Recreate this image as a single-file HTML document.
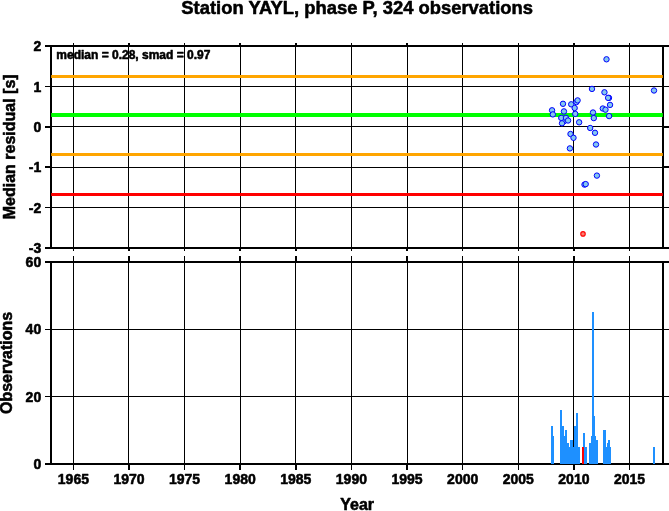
<!DOCTYPE html>
<html><head><meta charset="utf-8"><title>Station YAYL</title>
<style>
html,body{margin:0;padding:0;background:#fff;}
body{width:669px;height:511px;overflow:hidden;}
svg{display:block;will-change:transform;}
text{font-family:"Liberation Sans",sans-serif;font-weight:bold;fill:#000;stroke:#000;stroke-width:0.55px;stroke-linejoin:round;}
</style></head><body>
<svg width="669" height="511" viewBox="0 0 669 511">
<rect x="0" y="0" width="669" height="511" fill="#fff"/>
<g shape-rendering="crispEdges" fill="#000">
<rect x="73" y="45" width="1" height="204"/>
<rect x="128" y="45" width="1" height="204"/>
<rect x="184" y="45" width="1" height="204"/>
<rect x="240" y="45" width="1" height="204"/>
<rect x="295" y="45" width="1" height="204"/>
<rect x="351" y="45" width="1" height="204"/>
<rect x="407" y="45" width="1" height="204"/>
<rect x="462" y="45" width="1" height="204"/>
<rect x="518" y="45" width="1" height="204"/>
<rect x="573" y="45" width="1" height="204"/>
<rect x="629" y="45" width="1" height="204"/>
<rect x="45" y="45" width="624" height="2"/>
<rect x="45" y="247" width="624" height="2"/>
<rect x="50" y="45" width="2" height="204"/>
<rect x="662" y="45" width="2" height="204"/>
<rect x="73" y="261" width="1" height="204"/>
<rect x="128" y="261" width="1" height="204"/>
<rect x="184" y="261" width="1" height="204"/>
<rect x="240" y="261" width="1" height="204"/>
<rect x="295" y="261" width="1" height="204"/>
<rect x="351" y="261" width="1" height="204"/>
<rect x="407" y="261" width="1" height="204"/>
<rect x="462" y="261" width="1" height="204"/>
<rect x="518" y="261" width="1" height="204"/>
<rect x="573" y="261" width="1" height="204"/>
<rect x="629" y="261" width="1" height="204"/>
<rect x="45" y="261" width="624" height="2"/>
<rect x="45" y="463" width="624" height="2"/>
<rect x="50" y="261" width="2" height="204"/>
<rect x="662" y="261" width="2" height="204"/>
<rect x="45" y="86" width="624" height="1"/>
<rect x="45" y="126" width="624" height="1"/>
<rect x="45" y="167" width="624" height="1"/>
<rect x="45" y="207" width="624" height="1"/>
<rect x="45" y="329" width="624" height="1"/>
<rect x="45" y="396" width="624" height="1"/>
<rect x="45" y="127" width="5" height="1"/>
<rect x="664" y="127" width="5" height="1"/>
<rect x="45" y="166" width="5" height="1"/>
<rect x="664" y="166" width="5" height="1"/>
<rect x="73" y="43" width="1" height="2"/>
<rect x="73" y="249" width="1" height="2"/>
<rect x="73" y="256" width="1" height="5"/>
<rect x="73" y="465" width="1" height="5"/>
<rect x="128" y="43" width="2" height="2"/>
<rect x="128" y="249" width="2" height="2"/>
<rect x="128" y="256" width="2" height="5"/>
<rect x="128" y="465" width="2" height="5"/>
<rect x="184" y="43" width="1" height="2"/>
<rect x="184" y="249" width="1" height="2"/>
<rect x="184" y="256" width="1" height="5"/>
<rect x="184" y="465" width="1" height="5"/>
<rect x="239" y="43" width="2" height="2"/>
<rect x="239" y="249" width="2" height="2"/>
<rect x="239" y="256" width="2" height="5"/>
<rect x="239" y="465" width="2" height="5"/>
<rect x="295" y="43" width="2" height="2"/>
<rect x="295" y="249" width="2" height="2"/>
<rect x="295" y="256" width="2" height="5"/>
<rect x="295" y="465" width="2" height="5"/>
<rect x="351" y="43" width="1" height="2"/>
<rect x="351" y="249" width="1" height="2"/>
<rect x="351" y="256" width="1" height="5"/>
<rect x="351" y="465" width="1" height="5"/>
<rect x="406" y="43" width="2" height="2"/>
<rect x="406" y="249" width="2" height="2"/>
<rect x="406" y="256" width="2" height="5"/>
<rect x="406" y="465" width="2" height="5"/>
<rect x="462" y="43" width="1" height="2"/>
<rect x="462" y="249" width="1" height="2"/>
<rect x="462" y="256" width="1" height="5"/>
<rect x="462" y="465" width="1" height="5"/>
<rect x="518" y="43" width="1" height="2"/>
<rect x="518" y="249" width="1" height="2"/>
<rect x="518" y="256" width="1" height="5"/>
<rect x="518" y="465" width="1" height="5"/>
<rect x="573" y="43" width="2" height="2"/>
<rect x="573" y="249" width="2" height="2"/>
<rect x="573" y="256" width="2" height="5"/>
<rect x="573" y="465" width="2" height="5"/>
<rect x="629" y="43" width="1" height="2"/>
<rect x="629" y="249" width="1" height="2"/>
<rect x="629" y="256" width="1" height="5"/>
<rect x="629" y="465" width="1" height="5"/>
</g>
<g shape-rendering="crispEdges" fill="#1e90ff">
<rect x="551" y="426" width="2" height="38"/>
<rect x="553" y="436" width="1" height="28"/>
<rect x="560" y="410" width="2" height="54"/>
<rect x="562" y="426" width="2" height="38"/>
<rect x="564" y="436" width="1" height="28"/>
<rect x="565" y="430" width="2" height="34"/>
<rect x="567" y="443" width="2" height="21"/>
<rect x="569" y="447" width="1" height="17"/>
<rect x="570" y="440" width="3" height="24"/>
<rect x="573" y="447" width="1" height="17"/>
<rect x="574" y="426" width="2" height="38"/>
<rect x="576" y="413" width="2" height="51"/>
<rect x="578" y="447" width="2" height="17"/>
<rect x="583" y="433" width="2" height="31"/>
<rect x="585" y="447" width="2" height="17"/>
<rect x="589" y="443" width="2" height="21"/>
<rect x="591" y="436" width="1" height="28"/>
<rect x="592" y="312" width="2" height="152"/>
<rect x="594" y="416" width="1" height="48"/>
<rect x="595" y="436" width="1" height="28"/>
<rect x="596" y="440" width="2" height="24"/>
<rect x="603" y="430" width="3" height="34"/>
<rect x="606" y="447" width="1" height="17"/>
<rect x="607" y="443" width="1" height="21"/>
<rect x="608" y="440" width="2" height="24"/>
<rect x="610" y="447" width="1" height="17"/>
<rect x="653" y="447" width="2" height="17"/>
</g>
<rect shape-rendering="crispEdges" x="582" y="447" width="2" height="17" fill="#ff0000"/>
<g stroke-linecap="butt" fill="none">
<line x1="51.2" x2="662.8" y1="76.5" y2="76.5" stroke="#ffa500" stroke-width="3"/>
<line x1="51.2" x2="662.8" y1="154.5" y2="154.5" stroke="#ffa500" stroke-width="3"/>
<line x1="51.2" x2="662.8" y1="115" y2="115" stroke="#00ff00" stroke-width="4"/>
<line x1="51.2" x2="662.8" y1="194.5" y2="194.5" stroke="#ff0000" stroke-width="3"/>
</g>
<g fill="#84c8ee" stroke="#0000ff" stroke-width="1">
<circle cx="606.5" cy="59.3" r="2.7"/>
<circle cx="591.98" cy="88.9" r="2.7"/>
<circle cx="604.45" cy="92.3" r="2.7"/>
<circle cx="609.0" cy="97.9" r="2.7"/>
<circle cx="608.1" cy="97.85" r="2.7"/>
<circle cx="610.05" cy="104.9" r="2.7"/>
<circle cx="576.4" cy="102.1" r="2.7"/>
<circle cx="577.6" cy="100.4" r="2.7"/>
<circle cx="563.0" cy="103.8" r="2.7"/>
<circle cx="571.2" cy="104.3" r="2.7"/>
<circle cx="574.65" cy="108.0" r="2.7"/>
<circle cx="552.05" cy="110.3" r="2.7"/>
<circle cx="563.95" cy="111.4" r="2.7"/>
<circle cx="552.85" cy="114.4" r="2.7"/>
<circle cx="575.25" cy="113.9" r="2.7"/>
<circle cx="564.0" cy="121.2" r="2.7"/>
<circle cx="561.25" cy="117.9" r="2.7"/>
<circle cx="565.95" cy="117.9" r="2.7"/>
<circle cx="562.0" cy="123.3" r="2.7"/>
<circle cx="568.05" cy="120.5" r="2.7"/>
<circle cx="579.15" cy="122.3" r="2.7"/>
<circle cx="570.5" cy="134.0" r="2.7"/>
<circle cx="573.5" cy="137.8" r="2.7"/>
<circle cx="569.9" cy="148.4" r="2.7"/>
<circle cx="590.2" cy="128.0" r="2.7"/>
<circle cx="595.0" cy="132.8" r="2.7"/>
<circle cx="596.0" cy="144.5" r="2.7"/>
<circle cx="593.0" cy="112.5" r="2.7"/>
<circle cx="593.8" cy="118.1" r="2.7"/>
<circle cx="609.1" cy="116.1" r="2.7"/>
<circle cx="602.8" cy="108.5" r="2.7"/>
<circle cx="605.5" cy="109.7" r="2.7"/>
<circle cx="596.9" cy="175.6" r="2.7"/>
<circle cx="584.5" cy="184.6" r="2.7"/>
<circle cx="585.7" cy="184.1" r="2.7"/>
<circle cx="654.0" cy="90.5" r="2.7"/>
</g>
<circle cx="583" cy="233.9" r="2.25" fill="#fa8072" stroke="#ff0000" stroke-width="1.1"/>
<text x="357.15" y="14" font-size="18.4" text-anchor="middle">Station YAYL, phase P, 324 observations</text>
<text x="56.3" y="58.5" font-size="12">median = 0.28, smad = 0.97</text>
<text x="41.2" y="51.1" font-size="14" text-anchor="end">2</text>
<text x="41.2" y="91.5" font-size="14" text-anchor="end">1</text>
<text x="41.2" y="131.9" font-size="14" text-anchor="end">0</text>
<text x="41.2" y="172.3" font-size="14" text-anchor="end">-1</text>
<text x="41.2" y="212.7" font-size="14" text-anchor="end">-2</text>
<text x="41.2" y="253.1" font-size="14" text-anchor="end">-3</text>
<text x="41.2" y="267.1" font-size="14" text-anchor="end">60</text>
<text x="41.2" y="334.4" font-size="14" text-anchor="end">40</text>
<text x="41.2" y="401.7" font-size="14" text-anchor="end">20</text>
<text x="41.2" y="469.1" font-size="14" text-anchor="end">0</text>
<text x="73.4" y="484.3" font-size="14" text-anchor="middle">1965</text>
<text x="129.0" y="484.3" font-size="14" text-anchor="middle">1970</text>
<text x="184.6" y="484.3" font-size="14" text-anchor="middle">1975</text>
<text x="240.2" y="484.3" font-size="14" text-anchor="middle">1980</text>
<text x="295.8" y="484.3" font-size="14" text-anchor="middle">1985</text>
<text x="351.4" y="484.3" font-size="14" text-anchor="middle">1990</text>
<text x="407.1" y="484.3" font-size="14" text-anchor="middle">1995</text>
<text x="462.7" y="484.3" font-size="14" text-anchor="middle">2000</text>
<text x="518.3" y="484.3" font-size="14" text-anchor="middle">2005</text>
<text x="573.9" y="484.3" font-size="14" text-anchor="middle">2010</text>
<text x="629.5" y="484.3" font-size="14" text-anchor="middle">2015</text>
<text x="357.1" y="509.5" font-size="16" text-anchor="middle">Year</text>
<text transform="translate(14.9,146.8) rotate(-90)" font-size="16" text-anchor="middle">Median residual [s]</text>
<text transform="translate(12.3,362.9) rotate(-90)" font-size="16" text-anchor="middle">Observations</text>
</svg></body></html>
